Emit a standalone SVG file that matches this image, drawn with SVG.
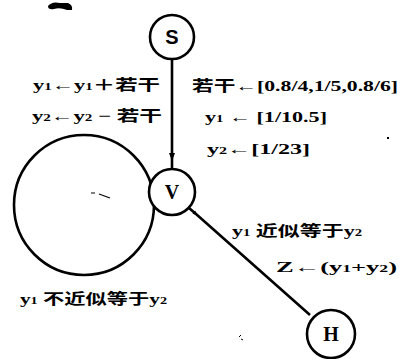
<svg xmlns="http://www.w3.org/2000/svg" width="402" height="359" viewBox="0 0 402 359">
<style>
.node{fill:#fff;stroke:#000;stroke-width:2.6}
.edge{fill:none;stroke:#000;stroke-width:2.6}
.lab{font-family:"Liberation Serif","Noto Sans CJK SC",serif;font-weight:bold;font-size:15px;fill:#000}
.nl{font-family:"Liberation Serif",serif;font-weight:bold;font-size:20px;fill:#000;text-anchor:middle}
.sub{font-size:10px}
</style>
<defs>
<marker id="ah" markerWidth="8" markerHeight="8" refX="4" refY="4" orient="auto" markerUnits="userSpaceOnUse">
<path d="M0,1 L8,4 L0,7 Z" fill="#000"/>
</marker>
<marker id="ahs" markerWidth="6" markerHeight="6" refX="3" refY="3" orient="auto" markerUnits="userSpaceOnUse">
<path d="M0,1 L6,3 L0,5 Z" fill="#000"/>
</marker>
</defs>
<rect width="402" height="359" fill="#fff"/>
<g id="connectors">
<circle class="edge" cx="84" cy="205" r="70"/>
<path class="edge" d="M172,59 L172,157 L172,169" marker-mid="url(#ah)"/>
<path class="edge" d="M189,208 L196,214 L310,315" marker-mid="url(#ahs)"/>
</g>
<g id="S"><circle class="node" cx="172" cy="37" r="22"/><text class="nl" x="172" y="44" style="font-family:'Liberation Sans',sans-serif">S</text></g>
<g id="V"><circle class="node" cx="172" cy="192" r="23"/><text class="nl" x="172" y="199">V</text></g>
<g id="H"><circle class="node" cx="331" cy="334" r="24"/><text class="nl" x="331" y="341">H</text></g>
<g id="labels">
<text class="lab" x="33" y="90" textLength="127" lengthAdjust="spacingAndGlyphs">y<tspan class="sub">1</tspan>←y<tspan class="sub">1</tspan>＋若干</text>
<text class="lab" x="32" y="121" textLength="130" lengthAdjust="spacingAndGlyphs">y<tspan class="sub">2</tspan>←y<tspan class="sub">2</tspan> − 若干</text>
<text class="lab" x="192" y="91" textLength="206" lengthAdjust="spacingAndGlyphs">若干←[0.8/4,1/5,0.8/6]</text>
<text class="lab" x="205" y="122" textLength="122" lengthAdjust="spacingAndGlyphs">y<tspan class="sub">1</tspan> ← [1/10.5]</text>
<text class="lab" x="207" y="154" textLength="103" lengthAdjust="spacingAndGlyphs">y<tspan class="sub">2</tspan>←[1/23]</text>
<text class="lab" x="232" y="236" textLength="130" lengthAdjust="spacingAndGlyphs">y<tspan class="sub">1</tspan> 近似等于y<tspan class="sub">2</tspan></text>
<text class="lab" x="276" y="272" textLength="121" lengthAdjust="spacingAndGlyphs">Z←(y<tspan class="sub">1</tspan>+y<tspan class="sub">2</tspan>)</text>
<text class="lab" x="20" y="304" textLength="147" lengthAdjust="spacingAndGlyphs">y<tspan class="sub">1</tspan> 不近似等于y<tspan class="sub">2</tspan></text>
</g>
<g id="specks" fill="#000">
<path d="M48,6 Q52,1 60,3 L68,3 Q73,5 72,10 L67,10 Q60,7 54,9 Q48,10 48,6 Z"/>
<path d="M91,193 L95,193 M99,194 L110,198" stroke="#000" stroke-width="1.2"/>
<rect x="387" y="137" width="2" height="2"/>
<path d="M239,337 l2,-2 M241,339 l2,1" stroke="#000" stroke-width="1"/>
</g>
</svg>
